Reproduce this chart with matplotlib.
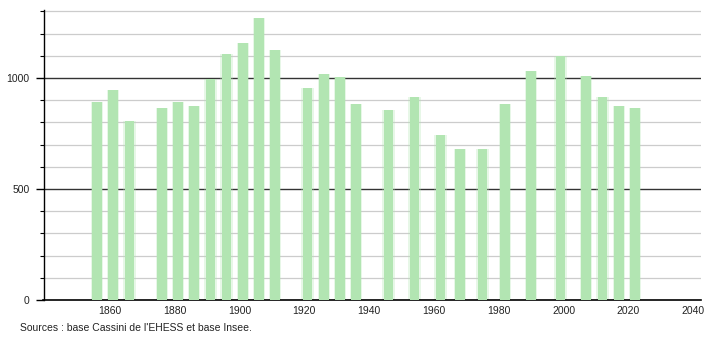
import matplotlib
matplotlib.use("Agg")
import matplotlib.pyplot as plt
import numpy as np

years = [1856, 1861, 1866, 1876, 1881, 1886, 1891, 1896, 1901, 1906, 1911,
         1921, 1926, 1931, 1936, 1946, 1954, 1962, 1968, 1975, 1982, 1990,
         1999, 2007, 2012, 2017, 2022]
population = [892, 946, 805, 865, 891, 873, 994, 1109, 1157, 1269, 1125,
              955, 1017, 1003, 882, 855, 914, 743, 680, 680, 881, 1032,
              1100, 1011, 914, 873, 866]
x_ticks = [1860, 1880, 1900, 1920, 1940, 1960, 1980, 2000, 2020, 2040]
y_major = [0, 500, 1000]
y_minor = list(range(100, 1400, 100))
source_text = "Sources : base Cassini de l'EHESS et base Insee."

plt.rcParams['font.family'] = ['Liberation Sans', 'DejaVu Sans']

fig = plt.figure(figsize=(7.1, 3.4), dpi=100)
ax = fig.add_axes([43.5/710, 40/340, (701-43.5)/710, 290/340])

bar_color = '#b2e5b2'
# soft edges
ax.bar(years, population, width=3.8, color=bar_color, alpha=0.3, zorder=2, linewidth=0)
ax.bar(years, population, width=3.0, color=bar_color, zorder=3, linewidth=0)

ax.set_xlim(1839.5, 2042.4)
ax.set_ylim(0, 1306)

for v in y_minor:
    if v % 500 != 0:
        ax.axhline(v, color='#cccccc', linewidth=0.9, zorder=1)
for v in y_major[1:]:
    ax.axhline(v, color='#333333', linewidth=1.0, zorder=1)

ax.set_xticks(x_ticks)
ax.set_xticklabels([str(t) for t in x_ticks])
ax.set_yticks(y_major)
ax.set_yticklabels([str(t) for t in y_major])
ax.set_yticks([v for v in y_minor if v % 500 != 0], minor=True)

ax.tick_params(axis='x', length=0, pad=4, labelsize=7.5, labelcolor='#222222')
ax.tick_params(axis='y', which='major', length=6, width=1, pad=4, labelsize=7.5, labelcolor='#222222')
ax.tick_params(axis='y', which='minor', length=3, width=0.8)

for s in ['top', 'right']:
    ax.spines[s].set_visible(False)
ax.spines['left'].set_linewidth(1.0)
ax.spines['bottom'].set_linewidth(1.2)

fig.text(20/710, 1 - 328/340, source_text, fontsize=7.5, va='center', ha='left', color='#222222')

fig.savefig('out.png', dpi=100)
